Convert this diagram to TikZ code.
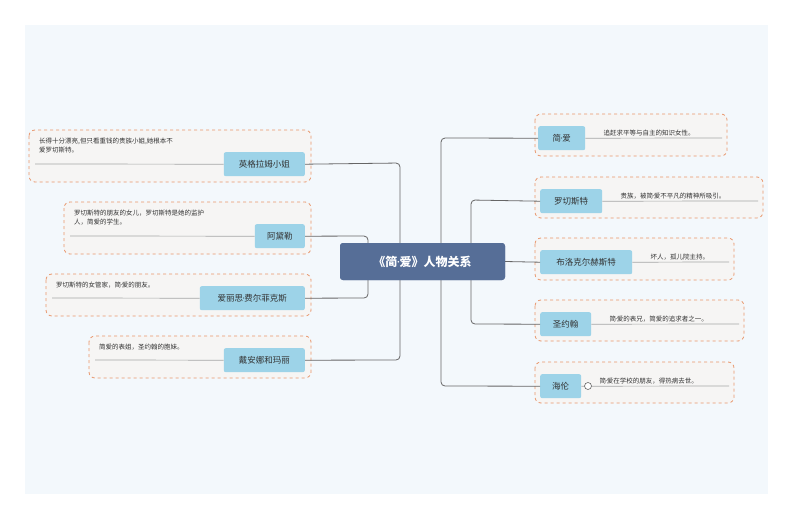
\documentclass[tikz,border=0pt]{standalone}
\usepackage{fontspec}
\setmainfont{Noto Sans CJK SC}
\newfontfamily\latinf{Noto Sans}
\newcommand\md{{\latinf\kern-0.5pt·\kern-0.5pt}}
\definecolor{labc}{HTML}{9DD3E8}
\definecolor{cenc}{HTML}{566E97}
\definecolor{frc}{HTML}{E8956A}
\definecolor{bgc}{HTML}{F3F8FC}
\definecolor{frf}{HTML}{F6F5F4}
\begin{document}
\begin{tikzpicture}[x=1pt,y=-1pt,
  frame/.style={draw=frc,dashed,fill=frf,rounded corners=6pt,line width=0.8pt},
  lab/.style={fill=labc,rounded corners=2pt,anchor=north west,inner sep=0pt,font=\fontsize{8.5}{10}\selectfont,text=black!80},
  note/.style={anchor=north west,inner sep=0pt,font=\fontsize{6.5}{8.5}\selectfont,text=black!80,align=left},
  uline/.style={draw=gray!70,line width=0.7pt},
  conn/.style={draw=gray!80!black,line width=0.8pt,rounded corners=4pt},
  cen/.style={fill=cenc,rounded corners=3pt,minimum width=165pt,minimum height=37pt,text=white,font=\fontsize{12}{14}\selectfont\bfseries}]
\useasboundingbox (0,0) rectangle (794,519);
\fill[white] (0,0) rectangle (794,519);
\fill[bgc] (25,25) rectangle (768,494);
\node[cen] (c) at (422.5,261.5) {《简\md 爱》人物关系};
\newcommand\rnode[9]{%
  \draw[frame] (#2,#3) rectangle (#4,#5);
  \node[lab,minimum width=#7pt,minimum height=24pt] (#1) at (#6,#3+12) {#8};
  \node[note,anchor=south west] (#1n) at ([xshift=18pt]#1.east |- 0,#3+22) {#9};
  \draw[uline] (#1.east) -- (#4-5,#3+24);}
\rnode{r1}{535}{114}{727}{156}{538}{47}{简\md 爱}{追赶求平等与自主的知识女性。}
\rnode{r2}{535}{177}{763}{218}{540}{62}{罗切斯特}{贵族，被简\md 爱不平凡的精神所吸引。}
\rnode{r3}{535}{238}{734}{280}{540}{92}{布洛克尔赫斯特}{坏人，孤儿院主持。}
\rnode{r4}{535}{300}{744}{341}{540}{51}{圣约翰}{简\md 爱的表兄，简爱的追求者之一。}
\rnode{r5}{535}{362}{734}{403}{540}{41}{海伦}{简\md 爱在学校的朋友，得热病去世。}
\draw[gray!80!black,fill=white,line width=0.6pt] (588,386) circle (3.5pt);
\newcommand\lnode[9]{%
  \draw[frame] (#2,#3) rectangle (#4,#5);
  \node[lab,anchor=north east,minimum width=#7pt,minimum height=24pt] (#1) at (#6,#5-30) {#8};
  \node[note] (#1n) at (#2+10,#3+8) {#9};
  \draw[uline] (#2+6,#5-18) -- (#1.west);}
\lnode{l1}{29}{130}{311}{182}{305}{81}{英格拉姆小姐}{长得十分漂亮,但只看重钱的贵族小姐,她根本不\\爱罗切斯特。}
\lnode{l2}{64}{202}{311}{254}{305}{50}{阿黛勒}{罗切斯特的朋友的女儿，罗切斯特是她的监护\\人，简爱的学生。}
\lnode{l3}{46}{274}{311}{316}{305}{105}{爱丽思\md 费尔菲克斯}{罗切斯特的女管家，简\md 爱的朋友。}
\lnode{l4}{89}{336}{311}{378}{305}{81}{戴安娜和玛丽}{简爱的表姐，圣约翰的胞妹。}
\draw[conn] (r1.west) -- (441,138) -- (441,386) -- (r5.west);
\draw[conn] (r2.west) -- (471,200) -- (471,324) -- (r4.west);
\draw[conn] (c.east) -- (r3.west);
\draw[conn] (l1.east) -- (400,163) -- (400,360) -- (l4.east);
\draw[conn] (l2.east) -- (368,236) -- (368,298) -- (l3.east);
\node[cen] at (422.5,261.5) {《简\md 爱》人物关系};
\end{tikzpicture}
\end{document}
